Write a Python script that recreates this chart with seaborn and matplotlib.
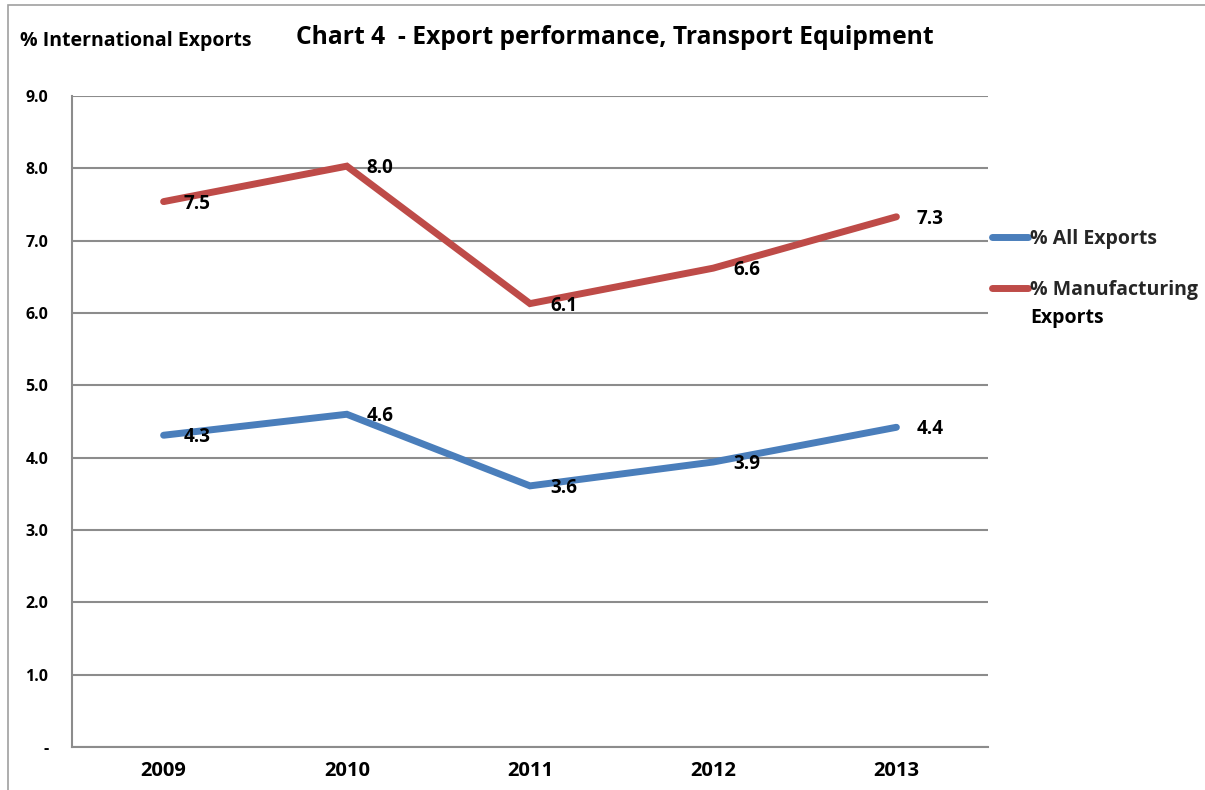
import matplotlib
matplotlib.use("Agg")
import matplotlib.pyplot as plt
import matplotlib.patches as mpatches
import numpy as np
import pandas as pd
import seaborn as sns

# ---------------------------------------------------------------------------
# Data
# ---------------------------------------------------------------------------
years = ["2009", "2010", "2011", "2012", "2013"]
all_exports = [4.31, 4.60, 3.61, 3.94, 4.42]
manufacturing_exports = [7.54, 8.03, 6.13, 6.62, 7.33]
y_ticks = [0, 1, 2, 3, 4, 5, 6, 7, 8, 9]
y_tick_labels = ["-", "1.0", "2.0", "3.0", "4.0", "5.0", "6.0", "7.0", "8.0", "9.0"]

SERIES_ALL = "% All Exports"
SERIES_MFG = "% Manufacturing Exports"

BLUE = "#4a7ebb"
RED = "#be4b48"
GRID = "#8c8c8c"
TEXT = "#000000"

sns.set_theme(style="white")
plt.rcParams["font.family"] = ["Open Sans", "DejaVu Sans"]
plt.rcParams["font.weight"] = "bold"

df = pd.DataFrame({
    "year_idx": list(range(len(years))) * 2,
    "value": all_exports + manufacturing_exports,
    "series": [SERIES_ALL] * len(years) + [SERIES_MFG] * len(years),
})

W, H = 1205, 790
fig = plt.figure(figsize=(W / 100, H / 100), dpi=100)
ax = fig.add_axes([72 / W, (H - 747) / H, (988 - 72) / W, (747 - 96) / H])

# outer chart frame (partially cropped in the reference)
fig.patches.append(mpatches.Rectangle((8 / W, -0.1), 1.2, (H - 5) / H + 0.1,
                                      transform=fig.transFigure, fill=False,
                                      edgecolor="#a0a0a0", linewidth=1.2))

sns.lineplot(data=df, x="year_idx", y="value", hue="series",
             palette={SERIES_ALL: BLUE, SERIES_MFG: RED},
             linewidth=5, ax=ax, legend=True)
for ln in ax.get_lines():
    ln.set_solid_capstyle("round")
    ln.set_solid_joinstyle("miter")

ax.set_xlim(-0.5, len(years) - 0.5)
ax.set_ylim(0, 9)
ax.set_xticks(range(len(years)))
ax.set_xticklabels(years)
ax.set_yticks(y_ticks)
ax.set_yticklabels(y_tick_labels)
ax.tick_params(axis="y", length=0, pad=17, labelsize=11.5, labelcolor=TEXT)
ax.tick_params(axis="x", length=0, pad=10, labelsize=14.5, labelcolor=TEXT)
for lab in ax.get_xticklabels() + ax.get_yticklabels():
    lab.set_fontweight("bold")
ax.set_xlabel("")
ax.set_ylabel("")

ax.yaxis.grid(True, color=GRID, linewidth=1.5)
ax.set_axisbelow(True)
for side in ["top", "right"]:
    ax.spines[side].set_visible(False)
for side in ["left", "bottom"]:
    ax.spines[side].set_color(GRID)
    ax.spines[side].set_linewidth(1.5)

# data labels
for vals in (all_exports, manufacturing_exports):
    for i, v in enumerate(vals):
        ax.annotate(f"{v:.1f}", (i, v), xytext=(20, -2), textcoords="offset pixels",
                    ha="left", va="center", fontsize=13.5, fontweight="bold", color=TEXT)

# legend: handle sits on the first line of the wrapped label, as in the original
handles, _ = ax.get_legend_handles_labels()
leg = ax.legend(handles, ["% All Exports", "% Manufacturing"],
                loc="upper left", bbox_to_anchor=(992 / W, 1 - 229 / H),
                bbox_transform=fig.transFigure, frameon=False, borderpad=0,
                borderaxespad=0, handlelength=1.85, handletextpad=0.1,
                labelspacing=1.6, prop={"size": 14, "weight": "bold"})
for h in leg.get_lines():
    h.set_linewidth(5)
    h.set_solid_capstyle("round")
ax.annotate("Exports", xy=(0, 0.5), xycoords=leg.get_texts()[1],
            xytext=(0, -28), textcoords="offset pixels", ha="left", va="center",
            fontsize=14, fontweight="bold", color=TEXT, zorder=10,
            annotation_clip=False)

fig.text(20 / W, 1 - 41 / H, "% International Exports", fontsize=14,
         fontweight="bold", ha="left", va="center", color=TEXT)
fig.text(615 / W, 1 - 38 / H, "Chart 4  - Export performance, Transport Equipment",
         fontsize=17.7, fontweight="bold", ha="center", va="center", color=TEXT)

fig.savefig("out.png", dpi=100, facecolor="white")
